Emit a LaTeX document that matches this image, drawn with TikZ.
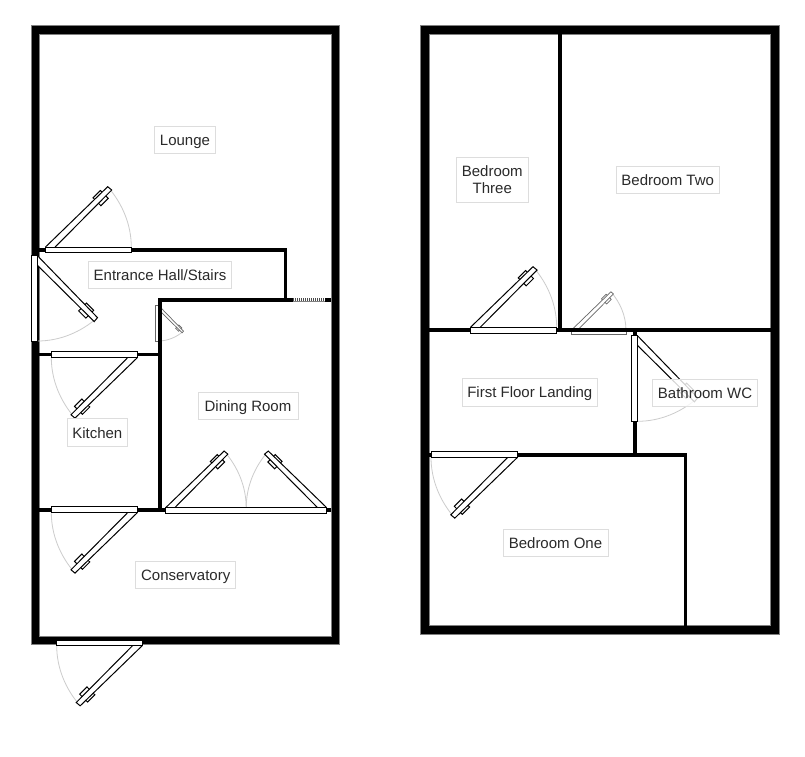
\documentclass[tikz,border=0pt]{standalone}
\usepackage{fontspec}
\setmainfont{Liberation Sans}
\definecolor{labeltext}{HTML}{2A2A2A}
\definecolor{labelline}{HTML}{DDDDDD}
\definecolor{swingline}{HTML}{CCCCCC}
\tikzset{
  roomwall/.style={line width=3.6pt,draw=black,line cap=butt},
  shell/.style={fill=black,draw=gray,line width=.7pt,even odd rule},
  doorline/.style={draw=black,fill=white,line width=1pt,line join=miter},
  softdoor/.style={draw=black!60,fill=white,line width=.7pt},
  swing/.style={draw=swingline,line width=.8pt},
  roomlabel/.style={draw=labelline,line width=.8pt,fill=white,fill opacity=.82,text opacity=1,text=labeltext,
    font=\fontsize{15}{17}\selectfont,align=center,inner sep=0pt,anchor=center,text height=12pt,text depth=.6pt},
}
% hinge x, hinge y, along-frame vector, opening vector, length; optional style
\newcommand\doorat[8][doorline]{%
  \pgfmathsetmacro\dk{#8/86}%
  \pgfmathsetmacro\ax{#4*\dk}\pgfmathsetmacro\ay{-1*(#5)*\dk}%
  \pgfmathsetmacro\bx{#6*\dk}\pgfmathsetmacro\by{-1*(#7)*\dk}%
  \begin{scope}[shift={(#2,#3)},x={(\ax pt,\ay pt)},y={(\bx pt,\by pt)}]
    \draw[swing] (86,2.8) .. controls (86,25.6) and (76.9,46.7) .. (62.4,63.3);
    \draw[#1] (0,2.8) -- (62.4,63.3) -- (66.4,60) -- (9.7,2.8);
    \draw[#1,fill=none] (49.3,50.7) -- (47.7,52.2) -- (55,59.5) -- (56.6,58);
    \draw[#1,fill=none] (53.2,46.8) -- (55.6,44.3) -- (62.9,51.6) -- (60.4,54.1);
    \draw[#1] (0,-2.8) rectangle (86,2.8);
  \end{scope}}
\begin{document}
\begin{tikzpicture}[x=1pt,y=-1pt]
\useasboundingbox (0,0) rectangle (805,756);
\fill[white] (0,0) rectangle (805,756);
% doors that lie under the walls
\doorat[softdoor]{157}{305}{0}{1}{1}{0}{36}
\doorat[softdoor]{571}{332.3}{1}{0}{0}{-1}{55}
% outer shells
\path[shell] (31,25.5) rectangle (339.5,644) (39,34) rectangle (331,636);
\path[shell] (420.5,25.5) rectangle (779.5,634) (429.5,34.3) rectangle (770.7,625);
% ground floor walls
\draw[roomwall] (39,250) -- (287,250);
\draw[roomwall] (285.5,250) -- (285.5,300);
\draw[roomwall] (158,299.8) -- (293,299.8);
\draw[roomwall] (325,299.8) -- (331,299.8);
\draw[draw=black!70,line width=2.6pt,dash pattern=on 1pt off 1pt] (293,299.3) -- (325,299.3);
\draw[draw=gray,line width=.6pt] (293,301) -- (325,301);
\draw[roomwall] (159.7,298) -- (159.7,510);
\draw[roomwall] (39,354.5) -- (160,354.5);
\draw[roomwall] (39,510) -- (331,510);
% first floor walls
\draw[roomwall] (560,34) -- (560,330);
\draw[roomwall] (429,330) -- (771,330);
\draw[roomwall] (635,330) -- (635,455);
\draw[roomwall] (429,455) -- (687,455);
\draw[roomwall] (685.3,455) -- (685.3,626);
% doors
\doorat{45.3}{250}{1}{0}{0}{-1}{86}
\doorat{34.7}{255.7}{0}{1}{1}{0}{85.3}
\doorat{137.7}{354.5}{-1}{0}{0}{1}{86.4}
\doorat{137.7}{509.5}{-1}{0}{0}{1}{86.4}
\doorat{142.3}{642.8}{-1}{0}{0}{1}{85.6}
\doorat{165.7}{510.3}{1}{0}{0}{-1}{80.5}
\doorat{326.7}{510.3}{-1}{0}{0}{-1}{80.5}
\draw[doorline] (165.7,507.5) rectangle (326.7,513.1);
\doorat{470.3}{330.3}{1}{0}{0}{-1}{86.4}
\doorat{634.7}{335.7}{0}{1}{1}{0}{85.6}
\doorat{517.7}{454.3}{-1}{0}{0}{1}{86.7}
% room labels
\node[roomlabel,minimum width=61.4pt,minimum height=27pt] (lounge) at (185,140) {Lounge};
\node[roomlabel,minimum width=143.4pt,minimum height=26.6pt] (hall) at (160,275) {Entrance Hall/Stairs};
\node[roomlabel,minimum width=100pt,minimum height=27pt] (dining) at (248,405.5) {Dining Room};
\node[roomlabel,minimum width=60pt,minimum height=27.3pt] (kitchen) at (97.3,432.3) {Kitchen};
\node[roomlabel,minimum width=100pt,minimum height=27pt] (conservatory) at (185.7,575) {Conservatory};
\node[roomlabel,minimum width=71.3pt,minimum height=44.3pt,text height=27pt,text depth=.4pt] (bedthree) at (492.3,180) {Bedroom\\Three};
\node[roomlabel,minimum width=103.3pt,minimum height=27.3pt] (bedtwo) at (667.7,179.7) {Bedroom Two};
\node[roomlabel,minimum width=135pt,minimum height=27.7pt] (landing) at (529.8,392.2) {First Floor Landing};
\node[roomlabel,minimum width=105pt,minimum height=27.7pt] (bath) at (705,393) {Bathroom WC};
\node[roomlabel,minimum width=105pt,minimum height=27pt] (bedone) at (555.5,543) {Bedroom One};
\end{tikzpicture}
\end{document}
